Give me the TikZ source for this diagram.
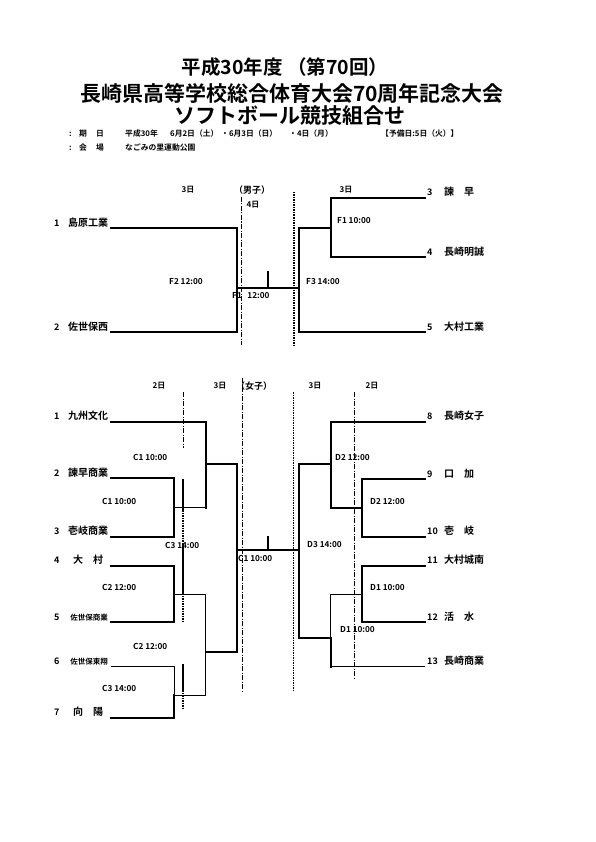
\documentclass[tikz,border=0pt]{standalone}
\usepackage{fontspec}
\setmainfont{Noto Sans CJK JP}[BoldFont={Noto Sans CJK JP Bold}]
\usepackage{tikz}
\newcommand{\setfs}[1]{\fontsize{#1}{#1}\selectfont}

\begin{document}
\begin{tikzpicture}[
  x=1pt, y=-1pt,
  title/.style={font=\bfseries\setfs{21}, inner sep=0pt},
  info/.style={font=\bfseries\setfs{7.8}, inner sep=0pt, anchor=west},
  day/.style={font=\bfseries\setfs{8}, inner sep=0pt},
  team/.style={font=\bfseries\setfs{10}, inner sep=0pt},
  teamsm/.style={font=\bfseries\setfs{7.5}, inner sep=0pt},
  num/.style={font=\bfseries\setfs{9}, inner sep=0pt, anchor=base west},
  game/.style={font=\bfseries\setfs{8.2}, inner sep=0pt, anchor=west},
  heavy/.style={line width=2pt, line cap=rect},
  light/.style={line width=0.8pt},
  guide/.style={line width=0.6pt, dash pattern=on 5pt off 1.5pt on 1pt off 1.5pt},
  dotguide/.style={line width=1.5pt, dash pattern=on 1.5pt off 1pt}
]
  \useasboundingbox (0,0) rectangle (595,842);

  % ── Title and info ─────────────────────────────────────────────────────────
  \node[title, font=\bfseries\setfs{19.5}] (ttl1) at (285,67) {平成30年度\ （第70回）};
  \node[title] (ttl2) at (292,93) {長崎県高等学校総合体育大会70周年記念大会};
  \node[title] (ttl3) at (290,116) {ソフトボール競技組合せ};

  \node[info] (dcol) at (69,134) {:};
  \node[info] (dki)  at (79,134) {期};
  \node[info] (dhi)  at (96,134) {日};
  \node[info] (dyr)  at (125,134) {平成30年};
  \node[info] (dd2)  at (170,134) {6月2日（土）};
  \node[info] (dd3)  at (221,134) {・6月3日（日）};
  \node[info] (dd4)  at (289,134) {・4日（月）};
  \node[info] (dres) at (381,134) {【予備日:5日（火）】};
  \node[info] (vcol) at (69,148) {:};
  \node[info] (vkai) at (79,148) {会};
  \node[info] (vjo)  at (96,148) {場};
  \node[info] (vpk)  at (125,148) {なごみの里運動公園};

  % ── Boys: headings and guides ──────────────────────────────────────────────
  \node[day] (bd3l) at (188,190) {3日};
  \node[day, font=\bfseries\setfs{9}] (bsex) at (252,190) {（男子）};
  \node[day] (bd4)  at (253,205) {4日};
  \node[day] (bd3r) at (346,190) {3日};
  \draw[guide]    (241,197) -- (241,345);
  \draw[dotguide] (294,192) -- (294,345);

  % ── Boys: teams ────────────────────────────────────────────────────────────
  \node[num] (kB1) at (54,226) {1};
  \node[team, anchor=base] (nB1) at (88,226) {島原工業};
  \node[num] (kB2) at (54,330) {2};
  \node[team, anchor=base] (nB2) at (88,330) {佐世保西};
  \node[num] (kB3) at (427,196) {3};
  \node[team, anchor=base west] (nB3) at (444,196) {諫　早};
  \node[num] (kB4) at (427,255) {4};
  \node[team, anchor=base west] (nB4) at (444,255) {長崎明誠};
  \node[num] (kB5) at (427,330) {5};
  \node[team, anchor=base west] (nB5) at (444,330) {大村工業};

  \coordinate (tB1) at (111,228);
  \coordinate (tB2) at (111,332);
  \coordinate (tB3) at (425,198);
  \coordinate (tB4) at (425,257);
  \coordinate (tB5) at (425,332);
  \coordinate (mF2) at (237,288);
  \coordinate (mF1) at (331,228);
  \coordinate (mF3) at (299,288);
  \coordinate (wB)  at (268,288);
  \coordinate (wBt) at (268,272);

  % ── Boys: bracket ──────────────────────────────────────────────────────────
  \draw[heavy] (tB1) -| (mF2) |- (tB2);
  \draw[heavy] (tB3) -| (mF1) |- (tB4);
  \draw[heavy] (mF1) -| (mF3) |- (tB5);
  \draw[heavy] (mF2) -- (mF3);
  \draw[heavy] (wBt) -- (wB);

  \node[game] (gF2) at (169,282) {F2 12:00};
  \node[game] (gF1) at (232,296) {F1 \ \ 12:00};
  \node[game] (gF3) at (306,282) {F3 14:00};
  \node[game] (gF1r) at (337,221) {F1 10:00};

  % ── Girls: headings and guides ─────────────────────────────────────────────
  \node[day] (gd2l) at (159,386) {2日};
  \node[day] (gd3l) at (220,386) {3日};
  \node[day, font=\bfseries\setfs{9}] (gsex) at (254,386) {（女子）};
  \node[day] (gd3r) at (315,386) {3日};
  \node[day] (gd2r) at (372,386) {2日};
  \draw[guide]    (242,378) -- (242,693);
  \draw[dotguide] (293.5,392) -- (293.5,690);
  \draw[guide]    (354,392) -- (354,680);
  \draw[guide]    (183,392) -- (183,448);
  \draw[heavy]    (183,480) -- (183,510);
  \draw[dotguide] (183,510) -- (183,545);
  \draw[heavy]    (183,545) -- (183,593);
  \draw[dotguide] (183,593) -- (183,622);
  \draw[heavy]    (183,665) -- (183,690);
  \draw[dotguide] (183,690) -- (183,708);

  % ── Girls: teams ───────────────────────────────────────────────────────────
  \node[num] (kG1) at (54,419.7) {1};
  \node[team, anchor=base] (nG1) at (88,419.7) {九州文化};
  \node[num] (kG2) at (54,476.3) {2};
  \node[team, anchor=base] (nG2) at (88,476.3) {諫早商業};
  \node[num] (kG3) at (54,534.7) {3};
  \node[team, anchor=base] (nG3) at (88,534.7) {壱岐商業};
  \node[num] (kG4) at (54,563.7) {4};
  \node[team, anchor=base] (nG4) at (88,563.7) {大　村};
  \node[num] (kG5) at (54,620.3) {5};
  \node[teamsm, anchor=base] (nG5) at (89,620.3) {佐世保商業};
  \node[num] (kG6) at (54,664) {6};
  \node[teamsm, anchor=base] (nG6) at (89,664) {佐世保東翔};
  \node[num] (kG7) at (54,715.7) {7};
  \node[team, anchor=base] (nG7) at (88,715.7) {向　陽};

  \node[num] (kD8)  at (427,419.7) {8};
  \node[team, anchor=base west] (nD8)  at (444,419.7) {長崎女子};
  \node[num] (kD9)  at (427,477) {9};
  \node[team, anchor=base west] (nD9)  at (444,477) {口　加};
  \node[num] (kD10) at (427,534.7) {10};
  \node[team, anchor=base west] (nD10) at (444,534.7) {壱　岐};
  \node[num] (kD11) at (427,563.7) {11};
  \node[team, anchor=base west] (nD11) at (444,563.7) {大村城南};
  \node[num] (kD12) at (427,620.3) {12};
  \node[team, anchor=base west] (nD12) at (444,620.3) {活　水};
  \node[num] (kD13) at (427,664.7) {13};
  \node[team, anchor=base west] (nD13) at (444,664.7) {長崎商業};

  \coordinate (tG1) at (111,421.7);
  \coordinate (tG2) at (111,478.3);
  \coordinate (tG3) at (111,536.7);
  \coordinate (tG4) at (111,565.7);
  \coordinate (tG5) at (111,622.3);
  \coordinate (tG6) at (111,666);
  \coordinate (tG7) at (111,717.7);
  \coordinate (mC1a) at (174,507.7);
  \coordinate (mC1b) at (205.7,464.3);
  \coordinate (mC1c) at (205.7,507.7);
  \coordinate (mC2a) at (174,594);
  \coordinate (mC2b) at (205.7,651.7);
  \coordinate (mC3a) at (174,695);
  \coordinate (sC)   at (237.3,550);

  \coordinate (tD8)  at (425,421.7);
  \coordinate (tD9)  at (425,479);
  \coordinate (tD10) at (425,536.7);
  \coordinate (tD11) at (425,565.7);
  \coordinate (tD12) at (425,622.3);
  \coordinate (tD13) at (425,666.7);
  \coordinate (mD2a) at (361.7,507.7);
  \coordinate (mD2b) at (330.7,464.3);
  \coordinate (mD2c) at (330.7,507.7);
  \coordinate (mD1a) at (361.7,594);
  \coordinate (mD3b) at (330.7,638.3);
  \coordinate (mD3c) at (330.7,666.7);
  \coordinate (sD)   at (299.3,550);
  \coordinate (wG)   at (267.7,550);
  \coordinate (wGt)  at (267.7,536.7);

  % ── Girls: bracket, left half ──────────────────────────────────────────────
  \draw[heavy] (tG2) -| (mC1a) |- (tG3);
  \draw[heavy] (tG1) -| (mC1b) -- (mC1c);
  \draw[light] (mC1a) -- (mC1c);
  \draw[heavy] (mC1b) -| (sC) |- (mC2b);
  \draw[heavy] (tG4) -| (mC2a) |- (tG5);
  \draw[light] (mC2a) -| (mC2b) |- (mC3a);
  \draw[light] (tG6) -| (mC3a);
  \draw[heavy] (mC3a) |- (tG7);

  % ── Girls: bracket, right half ─────────────────────────────────────────────
  \draw[heavy] (tD9) -| (mD2a) |- (tD10);
  \draw[heavy] (tD8) -| (mD2b) -- (mD2c) -- (mD2a);
  \draw[heavy] (mD2b) -| (sD) |- (mD3b);
  \draw[heavy] (tD11) -| (mD1a) |- (tD12);
  \draw[light] (mD1a) -| (mD3b);
  \draw[heavy] (mD3b) -- (mD3c);
  \draw[light] (mD3c) -- (tD13);

  % ── Girls: final ───────────────────────────────────────────────────────────
  \draw[heavy] (sC) -- (sD);
  \draw[heavy] (wGt) -- (wG);

  % ── Girls: game labels ─────────────────────────────────────────────────────
  \node[game] (gC1u) at (133,457.7) {C1 10:00};
  \node[game] (gC1l) at (102,501) {C1 10:00};
  \node[game] (gC3u) at (165,545) {C3 14:00};
  \node[game] (gC1f) at (238,558) {C1 10:00};
  \node[game] (gC2u) at (102,587.7) {C2 12:00};
  \node[game] (gC2l) at (133,646) {C2 12:00};
  \node[game] (gC3l) at (102,688.3) {C3 14:00};
  \node[game] (gD2u) at (335,458) {D2 12:00};
  \node[game] (gD2l) at (370,501.7) {D2 12:00};
  \node[game] (gD3)  at (307,545) {D3 14:00};
  \node[game] (gD1u) at (370,587.7) {D1 10:00};
  \node[game] (gD1l) at (340,630) {D1 10:00};
\end{tikzpicture}
\end{document}
